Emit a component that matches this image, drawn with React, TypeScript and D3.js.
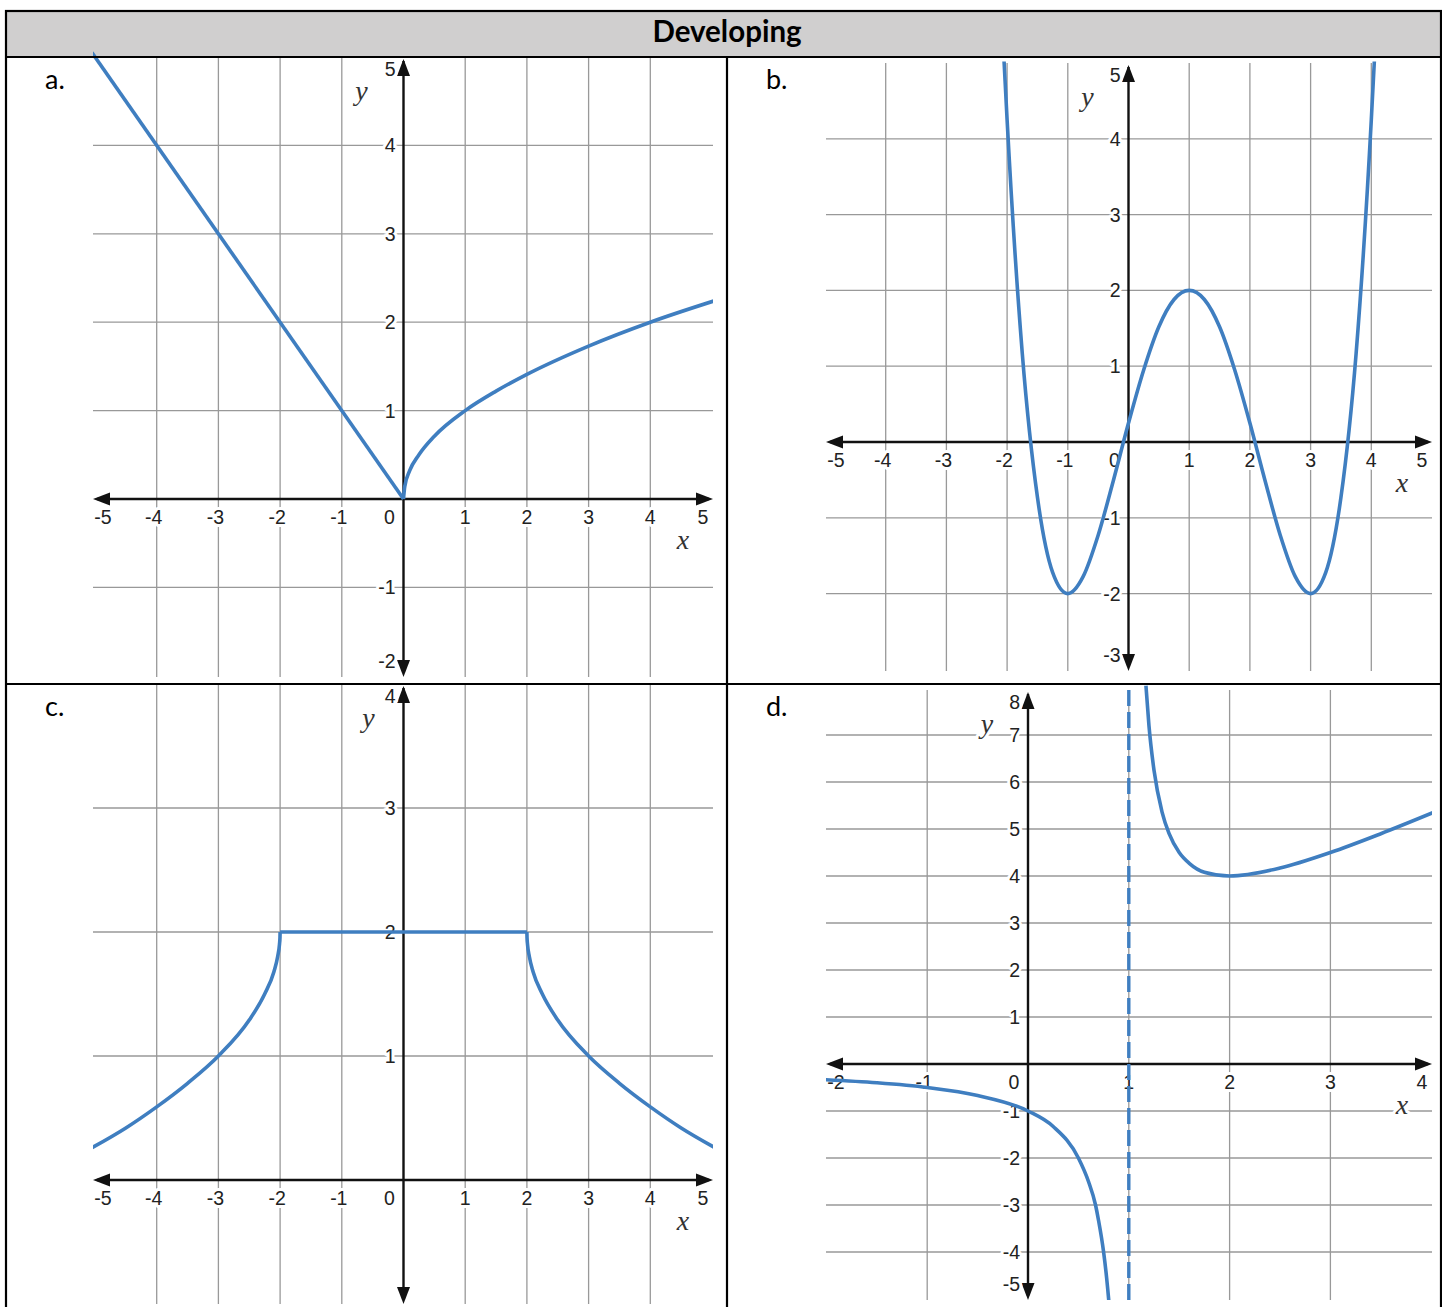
import React from "react";
import * as d3 from "d3";

const BLUE = "#3f7ec0";
const GRID = "#999999";

// panel a
const aLeftX = [-5.05, 0];
const aLeftY = [5.05, 0];
const aRightX = [0, 0.02, 0.1, 0.25, 0.5, 1, 1.5, 2, 3, 4, 5.03];
const aRightY = [0, 0.14, 0.32, 0.5, 0.71, 1, 1.22, 1.41, 1.73, 2, 2.24];

// panel b
const bX = [-2.05, -2, -1.75, -1.5, -1.25, -1, -0.75, -0.5, -0.25, 0, 0.25, 0.5, 0.75, 1, 1.25, 1.5, 1.75, 2, 2.25, 2.5, 2.75, 3, 3.25, 3.5, 3.75, 4, 4.05];
const bY = [5.02, 4.25, 1.17, -0.73, -1.72, -2, -1.78, -1.23, -0.51, 0.25, 0.95, 1.52, 1.88, 2, 1.88, 1.52, 0.95, 0.25, -0.51, -1.23, -1.78, -2, -1.72, -0.73, 1.17, 4.25, 5.02];

// panel c
const cLeftX = [-5.05, -4.5, -4, -3.5, -3, -2.5, -2.25, -2.1, -2.04, -2.01, -2.002, -2];
const cLeftY = [0.26, 0.42, 0.59, 0.78, 1, 1.29, 1.5, 1.68, 1.8, 1.9, 1.955, 2];
const cMidX = [-2, 2];
const cMidY = [2, 2];
const cRightX = [2, 2.002, 2.01, 2.04, 2.1, 2.25, 2.5, 3, 3.5, 4, 4.5, 5.05];
const cRightY = [2, 1.955, 1.9, 1.8, 1.68, 1.5, 1.29, 1, 0.78, 0.59, 0.42, 0.26];

// panel d
const dLeftX = [-2.05, -1.5, -1, -0.5, 0, 0.25, 0.5, 0.6, 0.67, 0.7, 0.75, 0.78, 0.8, 0.81];
const dLeftY = [-0.33, -0.4, -0.5, -0.67, -1, -1.33, -2, -2.5, -3, -3.33, -4, -4.55, -5, -5.26];
const dRightX = [1.17, 1.2, 1.25, 1.33, 1.4, 1.5, 1.6, 1.75, 2, 2.5, 3, 3.5, 4.02];
const dRightY = [8.05, 7.2, 6.25, 5.36, 4.9, 4.5, 4.27, 4.08, 4, 4.17, 4.5, 4.9, 5.35];
const dAsymptote = 1;

const abcGridX = [-4, -3, -2, -1, 1, 2, 3, 4];
const aGridY = [-1, 1, 2, 3, 4];
const bGridY = [-2, -1, 1, 2, 3, 4];
const cGridY = [1, 2, 3];
const dGridX = [-1, 1, 2, 3];
const dGridY = [-4, -3, -2, -1, 1, 2, 3, 4, 5, 6, 7];

const abcXTicks = [-5, -4, -3, -2, -1, 1, 2, 3, 4, 5];
const aYTicks = [-2, -1, 1, 2, 3, 4, 5];
const bYTicks = [-3, -2, -1, 1, 2, 3, 4, 5];
const cYTicks = [1, 2, 3, 4];
const dXTicks = [-2, -1, 1, 2, 3, 4];
const dYTicks = [-5, -4, -3, -2, -1, 1, 2, 3, 4, 5, 6, 7, 8];

const zip = (xs: number[], ys: number[]) => xs.map((x, i) => [x, ys[i]] as [number, number]);

type Box = { x0: number; x1: number; y0: number; y1: number };
type Panel = {
  id: string;
  letter: string;
  letterPos: [number, number];
  x: d3.ScaleLinear<number, number>;
  y: d3.ScaleLinear<number, number>;
  box: Box;
  gridX: number[];
  gridY: number[];
  xTicks: number[];
  yTicks: number[];
  yNameDx: number;
  series: [number, number][][];
  asymptote?: number;
};

const panels: Panel[] = [
  {
    id: "a", letter: "a.", letterPos: [45, 89],
    x: d3.scaleLinear().domain([-5, 5]).range([95, 712]),
    y: d3.scaleLinear().domain([-2, 5]).range([675.8, 57]),
    box: { x0: 93, x1: 713, y0: 57, y1: 677 },
    gridX: abcGridX, gridY: aGridY, xTicks: abcXTicks, yTicks: aYTicks, yNameDx: -42,
    series: [zip(aLeftX, aLeftY), zip(aRightX, aRightY)],
  },
  {
    id: "b", letter: "b.", letterPos: [766, 89],
    x: d3.scaleLinear().domain([-5, 5]).range([825, 1432]),
    y: d3.scaleLinear().domain([-3, 5]).range([669.4, 63]),
    box: { x0: 826, x1: 1432, y0: 63, y1: 671 },
    gridX: abcGridX, gridY: bGridY, xTicks: abcXTicks, yTicks: bYTicks, yNameDx: -41,
    series: [zip(bX, bY)],
  },
  {
    id: "c", letter: "c.", letterPos: [45, 716],
    x: d3.scaleLinear().domain([-5, 5]).range([95, 712]),
    y: d3.scaleLinear().domain([-1, 4]).range([1304, 684]),
    box: { x0: 93, x1: 713, y0: 684, y1: 1304 },
    gridX: abcGridX, gridY: cGridY, xTicks: abcXTicks, yTicks: cYTicks, yNameDx: -35,
    series: [zip(cLeftX, cLeftY), zip(cMidX, cMidY), zip(cRightX, cRightY)],
  },
  {
    id: "d", letter: "d.", letterPos: [766, 716],
    x: d3.scaleLinear().domain([-2, 4]).range([826.4, 1431.2]),
    y: d3.scaleLinear().domain([-5, 8]).range([1299, 688]),
    box: { x0: 826, x1: 1432, y0: 690, y1: 1300 },
    gridX: dGridX, gridY: dGridY, xTicks: dXTicks, yTicks: dYTicks, yNameDx: -41,
    series: [zip(dLeftX, dLeftY), zip(dRightX, dRightY)],
    asymptote: dAsymptote,
  },
];

const tickFont = "'Liberation Sans', Arial, sans-serif";
const nameFont = "'Liberation Serif', 'Times New Roman', serif";
const halo = { stroke: "#fff", strokeWidth: 6, paintOrder: "stroke" as const, strokeLinejoin: "round" as const };

function PanelView({ p }: { p: Panel }) {
  const { x, y, box } = p;
  const ax = x(0);
  const ay = y(0);
  const line = d3
    .line<[number, number]>()
    .x((d) => x(d[0]))
    .y((d) => y(d[1]))
    .curve(d3.curveMonotoneX);
  const clamp = (v: number, lo: number, hi: number) => Math.max(lo, Math.min(hi, v));
  const L = 17;
  const W = 6.5;
  return (
    <g>
      <clipPath id={`clip-${p.id}`}>
        <rect x={box.x0} y={box.y0 - 6} width={box.x1 - box.x0} height={box.y1 - box.y0 + 6} />
      </clipPath>
      {p.gridX.map((v) => (
        <line key={`gx${v}`} x1={x(v)} x2={x(v)} y1={box.y0} y2={box.y1} stroke={GRID} strokeWidth={1.3} />
      ))}
      {p.gridY.map((v) => (
        <line key={`gy${v}`} x1={box.x0} x2={box.x1} y1={y(v)} y2={y(v)} stroke={GRID} strokeWidth={1.3} />
      ))}
      {/* axes */}
      <line x1={box.x0 + 4} x2={box.x1 - 4} y1={ay} y2={ay} stroke="#111" strokeWidth={2.4} />
      <line x1={ax} x2={ax} y1={box.y0 + 4} y2={box.y1 - 4} stroke="#111" strokeWidth={2.4} />
      <path d={`M${box.x0},${ay} L${box.x0 + L},${ay - W} L${box.x0 + L},${ay + W} Z`} fill="#111" />
      <path d={`M${box.x1},${ay} L${box.x1 - L},${ay - W} L${box.x1 - L},${ay + W} Z`} fill="#111" />
      <path d={`M${ax},${box.y0 + 2} L${ax - W},${box.y0 + 2 + L} L${ax + W},${box.y0 + 2 + L} Z`} fill="#111" />
      <path d={`M${ax},${box.y1} L${ax - W},${box.y1 - L} L${ax + W},${box.y1 - L} Z`} fill="#111" />
      {/* tick labels */}
      <g fontFamily={tickFont} fontSize={19.5} fill="#222">
        {p.xTicks.map((v) => (
          <text
            key={`xt${v}`}
            x={clamp(x(v), box.x0 + 13, box.x1 - 10) - (v < 0 ? 3 : 0)}
            y={ay + 25}
            textAnchor="middle"
            {...halo}
          >
            {v < 0 ? `-${-v}` : v}
          </text>
        ))}
        <text x={ax - 14} y={ay + 25} textAnchor="middle" {...halo}>0</text>
        {p.yTicks.map((v) => (
          <text
            key={`yt${v}`}
            x={ax - 8}
            y={clamp(y(v), box.y0 + 12, box.y1 - 16) + 7}
            textAnchor="end"
            {...halo}
          >
            {v < 0 ? `-${-v}` : v}
          </text>
        ))}
      </g>
      {/* axis names */}
      <text x={box.x1 - 30} y={ay + 50} textAnchor="middle" fontFamily={nameFont} fontStyle="italic" fontSize={28} fill="#333" {...halo}>
        x
      </text>
      <text x={ax + p.yNameDx} y={box.y0 + 43} textAnchor="middle" fontFamily={nameFont} fontStyle="italic" fontSize={28} fill="#333" {...halo}>
        y
      </text>
      {/* curves */}
      <g clipPath={`url(#clip-${p.id})`}>
        {p.asymptote !== undefined && (
          <line
            x1={x(p.asymptote)}
            x2={x(p.asymptote)}
            y1={box.y0}
            y2={box.y1 + 6}
            stroke={BLUE}
            strokeWidth={3.4}
            strokeDasharray="16 6"
          />
        )}
        {p.series.map((s, i) => (
          <path key={i} d={line(s) ?? ""} fill="none" stroke={BLUE} strokeWidth={3.6} strokeLinejoin="round" />
        ))}
      </g>
      <text x={p.letterPos[0]} y={p.letterPos[1]} fontFamily="Lato, 'Open Sans', sans-serif" fontSize={27} fill="#000">
        {p.letter}
      </text>
    </g>
  );
}

export default function App() {
  return (
    <svg
      width={1442}
      height={1307}
      style={{ position: "absolute", left: 0, top: 0, display: "block", background: "#fff" }}
    >
      <rect x={0} y={0} width={1442} height={1307} fill="#fff" />
      <rect x={6} y={11} width={1435} height={46} fill="#d0cfcf" />
      <text
        x={727}
        y={42}
        textAnchor="middle"
        fontFamily="Lato, 'Open Sans', sans-serif"
        fontWeight="bold"
        fontSize={29.5}
        fill="#000"
      >
        Developing
      </text>
      {panels.map((p) => (
        <PanelView key={p.id} p={p} />
      ))}
      {/* table borders */}
      <g stroke="#000" strokeWidth={2.2} fill="none">
        <rect x={6} y={11} width={1435} height={1300} />
        <line x1={6} x2={1441} y1={57} y2={57} />
        <line x1={6} x2={1441} y1={684} y2={684} />
        <line x1={727} x2={727} y1={57} y2={1310} />
      </g>
    </svg>
  );
}
